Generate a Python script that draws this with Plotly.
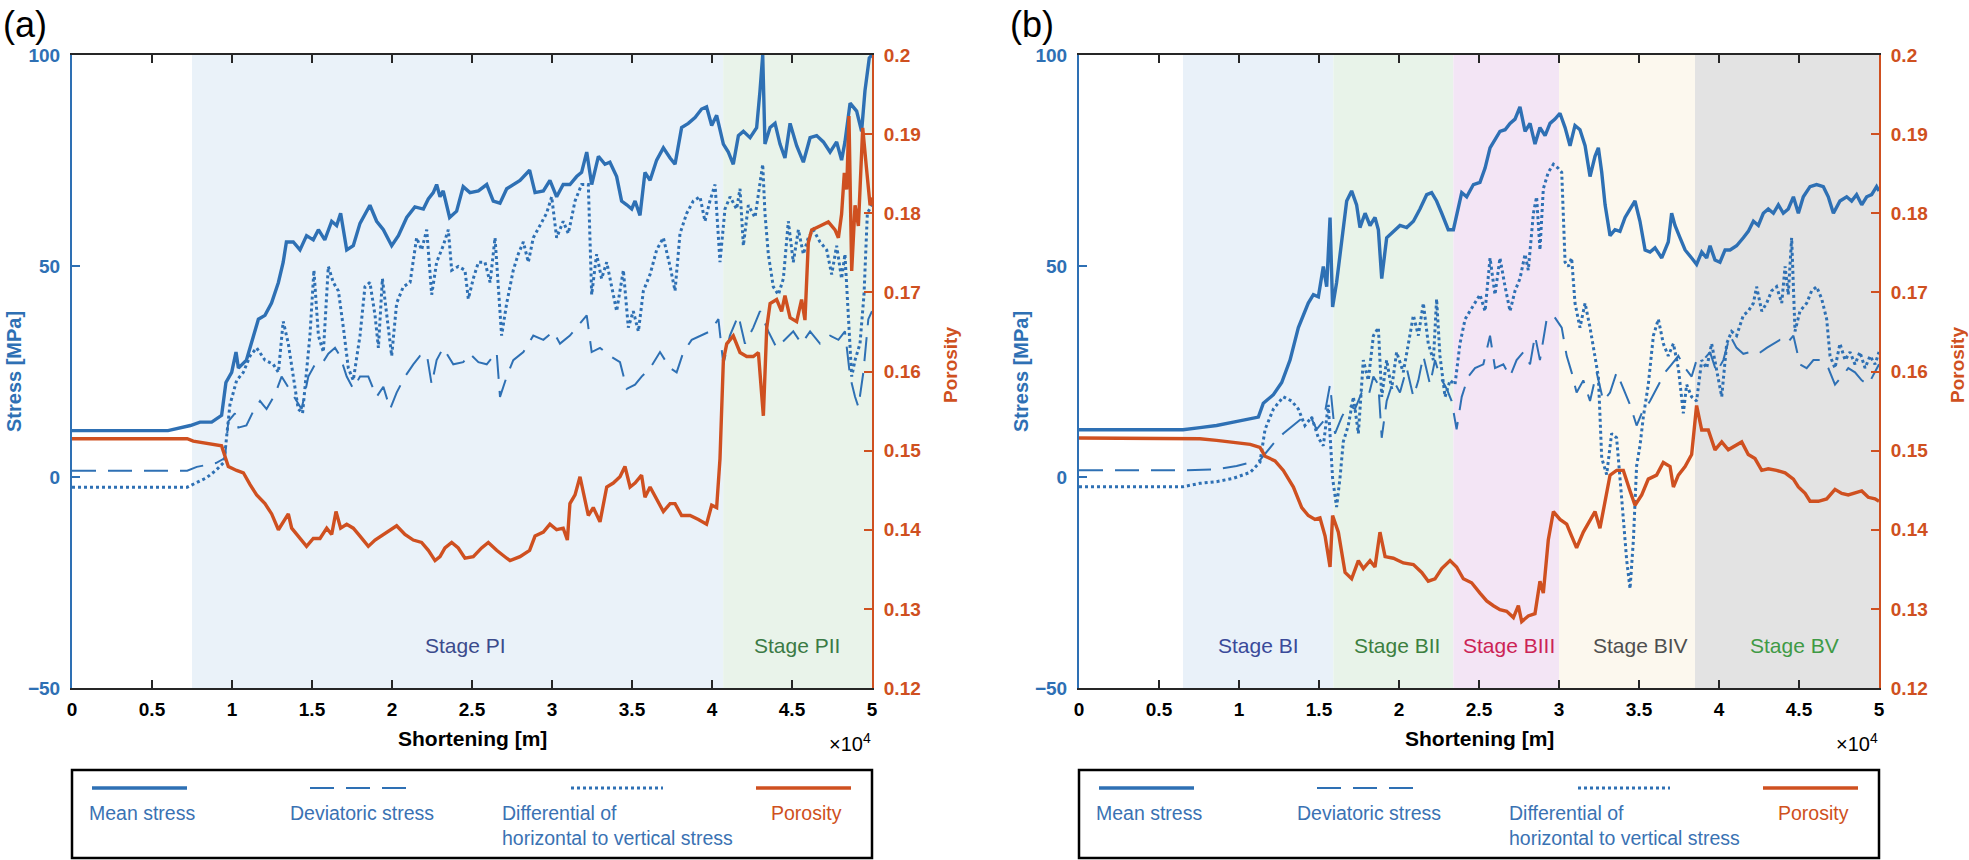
import plotly.graph_objects as go

# ---------------- data (shortening in units of 10^4 m) ----------------
a_mean_x = [0, 0.6, 0.74, 0.8, 0.873, 0.935, 0.962, 0.998, 1.025, 1.04, 1.09, 1.165, 1.206, 1.247, 1.29, 1.32, 1.34, 1.383, 1.425, 1.466, 1.508, 1.54, 1.58, 1.623, 1.654, 1.679, 1.717, 1.758, 1.8, 1.862, 1.904, 1.946, 1.998, 2.04, 2.092, 2.143, 2.196, 2.227, 2.258, 2.279, 2.3, 2.32, 2.36, 2.404, 2.445, 2.487, 2.54, 2.592, 2.633, 2.675, 2.717, 2.758, 2.8, 2.86, 2.894, 2.946, 2.987, 3.029, 3.07, 3.112, 3.154, 3.185, 3.217, 3.248, 3.29, 3.331, 3.362, 3.404, 3.435, 3.467, 3.498, 3.519, 3.55, 3.581, 3.613, 3.654, 3.696, 3.738, 3.769, 3.81, 3.852, 3.894, 3.935, 3.966, 3.998, 4.029, 4.071, 4.102, 4.133, 4.165, 4.196, 4.238, 4.279, 4.3, 4.317, 4.331, 4.363, 4.394, 4.425, 4.456, 4.488, 4.529, 4.571, 4.613, 4.654, 4.696, 4.738, 4.779, 4.81, 4.831, 4.863, 4.904, 4.935, 4.956, 4.983, 5.0]
a_mean_y = [11, 11, 12.2, 13.0, 13.0, 14.6, 22.4, 24.8, 29.6, 25.8, 27.7, 37.4, 38.3, 41.2, 46.1, 50.9, 55.7, 55.7, 53.8, 57.2, 56.2, 58.6, 56.2, 60.6, 59.6, 62.5, 53.8, 54.8, 60.1, 64.4, 60.6, 58.6, 54.8, 57.2, 61.5, 64.0, 63.5, 65.9, 67.4, 69.3, 66.4, 67.8, 61.5, 63.0, 68.8, 67.4, 67.8, 69.3, 65.4, 64.9, 68.3, 69.3, 70.3, 72.7, 67.4, 67.8, 70.3, 66.4, 69.3, 69.3, 71.2, 72.2, 77.0, 69.3, 76.0, 74.1, 74.6, 71.2, 65.4, 64.5, 63.5, 65.4, 62.0, 72.2, 70.3, 75.1, 78.0, 75.6, 74.1, 82.8, 83.8, 85.2, 87.2, 87.7, 83.3, 85.7, 78.9, 77.0, 74.1, 80.9, 81.9, 80.4, 82.8, 91.5, 100, 78.9, 82.8, 83.8, 78.9, 75.6, 83.8, 78.5, 74.6, 80.4, 80.9, 79.4, 77.0, 79.4, 75.1, 79.4, 88.6, 86.7, 81.9, 91.5, 99.3, 100]

a_dev_x = [0, 0.72, 0.78, 0.9, 0.956, 0.977, 1.018, 1.04, 1.09, 1.133, 1.175, 1.216, 1.268, 1.31, 1.341, 1.394, 1.435, 1.477, 1.519, 1.56, 1.602, 1.644, 1.675, 1.717, 1.758, 1.8, 1.852, 1.904, 1.946, 1.988, 2.029, 2.081, 2.133, 2.175, 2.217, 2.248, 2.279, 2.32, 2.383, 2.445, 2.487, 2.54, 2.592, 2.654, 2.675, 2.717, 2.758, 2.821, 2.883, 2.946, 3.008, 3.05, 3.112, 3.175, 3.217, 3.248, 3.3, 3.362, 3.425, 3.467, 3.519, 3.56, 3.613, 3.675, 3.738, 3.779, 3.821, 3.873, 3.925, 3.987, 4.04, 4.071, 4.112, 4.165, 4.206, 4.258, 4.3, 4.352, 4.404, 4.456, 4.508, 4.56, 4.613, 4.675, 4.738, 4.79, 4.831, 4.863, 4.894, 4.915, 4.946, 4.977, 5.0]
a_dev_y = [1.5, 1.5, 2.4, 3.3, 4.5, 13.2, 15.1, 11.7, 12.2, 15.6, 18.0, 16.1, 19.5, 23.8, 21.9, 18.5, 16.1, 23.8, 26.7, 26.7, 29.2, 30.6, 28.7, 23.8, 20.9, 23.8, 23.8, 19.0, 21.4, 16.1, 20.0, 23.8, 26.7, 28.7, 29.2, 21.9, 27.7, 30.6, 26.7, 27.2, 29.2, 27.2, 26.7, 29.6, 19.0, 23.8, 27.7, 29.6, 33.5, 32.5, 34.5, 31.6, 33.5, 36.4, 38.3, 29.6, 30.6, 28.7, 27.2, 20.9, 21.9, 23.8, 25.8, 29.6, 25.8, 24.8, 29.6, 32.5, 33.5, 34.5, 37.4, 26.7, 33.5, 38.3, 31.6, 35.4, 39.3, 34.5, 30.6, 32.5, 34.5, 31.6, 34.5, 31.6, 33.5, 32.5, 34.5, 23.8, 19.0, 16.6, 24.8, 37.4, 39.3]

a_diff_x = [0, 0.72, 0.84, 0.9, 0.95, 0.967, 0.987, 1.029, 1.071, 1.113, 1.154, 1.206, 1.258, 1.29, 1.32, 1.352, 1.383, 1.414, 1.441, 1.466, 1.487, 1.512, 1.54, 1.571, 1.602, 1.633, 1.665, 1.696, 1.727, 1.758, 1.8, 1.831, 1.862, 1.894, 1.915, 1.94, 1.967, 1.998, 2.029, 2.071, 2.113, 2.154, 2.185, 2.217, 2.248, 2.279, 2.32, 2.352, 2.373, 2.414, 2.456, 2.477, 2.508, 2.54, 2.581, 2.613, 2.644, 2.665, 2.685, 2.717, 2.758, 2.789, 2.821, 2.852, 2.883, 2.925, 2.966, 2.998, 3.029, 3.07, 3.102, 3.144, 3.185, 3.227, 3.248, 3.279, 3.31, 3.342, 3.383, 3.404, 3.446, 3.477, 3.508, 3.54, 3.571, 3.613, 3.654, 3.696, 3.738, 3.769, 3.8, 3.842, 3.883, 3.925, 3.956, 3.987, 4.019, 4.05, 4.081, 4.113, 4.154, 4.175, 4.196, 4.227, 4.269, 4.3, 4.317, 4.331, 4.352, 4.383, 4.415, 4.446, 4.477, 4.508, 4.54, 4.571, 4.602, 4.633, 4.675, 4.717, 4.748, 4.779, 4.81, 4.831, 4.852, 4.873, 4.894, 4.925, 4.95, 4.971, 5.0]
a_diff_y = [-2.4, -2.4, -0.2, 1.6, 3.5, 10.3, 17.1, 22.9, 24.8, 28.7, 30.6, 27.7, 26.7, 24.8, 36.9, 31.6, 23.8, 16.1, 15.1, 25.8, 33.5, 49.0, 33.5, 29.6, 49.9, 46.1, 44.1, 35.4, 25.8, 22.9, 33.5, 45.1, 46.1, 38.3, 30.6, 47.0, 38.3, 28.7, 41.2, 45.1, 46.1, 56.7, 53.8, 58.6, 43.2, 50.9, 54.8, 58.6, 49.0, 49.9, 49.0, 42.2, 47.0, 50.9, 50.9, 46.1, 56.7, 45.1, 33.5, 41.2, 49.0, 52.8, 55.7, 50.9, 56.7, 59.6, 62.5, 66.4, 56.7, 60.6, 57.7, 65.4, 69.3, 69.3, 43.2, 52.8, 47.0, 50.9, 43.2, 39.3, 49.0, 35.4, 39.3, 34.5, 44.1, 48.0, 53.8, 56.7, 49.9, 44.1, 57.7, 62.5, 65.4, 66.4, 60.6, 65.4, 69.3, 50.9, 63.5, 66.4, 63.5, 68.3, 54.8, 64.4, 61.5, 69.3, 74.1, 62.5, 52.8, 45.1, 43.2, 47.0, 60.6, 50.9, 58.6, 52.8, 56.7, 58.6, 55.7, 53.8, 48.0, 54.8, 47.0, 52.8, 39.3, 23.8, 27.7, 31.6, 43.2, 62.5, 64.5]

a_por_x = [0, 0.72, 0.758, 0.863, 0.935, 0.956, 0.977, 1.029, 1.071, 1.113, 1.154, 1.206, 1.248, 1.29, 1.331, 1.352, 1.373, 1.414, 1.466, 1.508, 1.55, 1.592, 1.623, 1.65, 1.679, 1.717, 1.758, 1.8, 1.852, 1.894, 1.946, 1.988, 2.029, 2.081, 2.133, 2.185, 2.227, 2.269, 2.3, 2.331, 2.373, 2.414, 2.456, 2.508, 2.56, 2.602, 2.654, 2.717, 2.7375, 2.8, 2.86, 2.894, 2.946, 2.987, 3.029, 3.07, 3.096, 3.112, 3.144, 3.175, 3.196, 3.227, 3.258, 3.3, 3.342, 3.383, 3.425, 3.456, 3.488, 3.519, 3.56, 3.581, 3.613, 3.654, 3.696, 3.738, 3.769, 3.81, 3.863, 3.915, 3.966, 3.998, 4.029, 4.05, 4.071, 4.092, 4.133, 4.175, 4.217, 4.258, 4.29, 4.321, 4.342, 4.363, 4.404, 4.435, 4.456, 4.488, 4.529, 4.56, 4.581, 4.602, 4.623, 4.675, 4.727, 4.769, 4.79, 4.81, 4.827, 4.842, 4.856, 4.873, 4.894, 4.915, 4.942, 4.963, 4.988, 5.0]
a_por_y = [0.1515, 0.1515, 0.1512, 0.1509, 0.1506, 0.1493, 0.148, 0.1475, 0.1472, 0.1457, 0.1444, 0.1433, 0.142, 0.14, 0.1413, 0.142, 0.1402, 0.1392, 0.1379, 0.1389, 0.1389, 0.1402, 0.1394, 0.1423, 0.1402, 0.1407, 0.1402, 0.1392, 0.1379, 0.1387, 0.1394, 0.14, 0.1405, 0.1394, 0.1387, 0.1384, 0.1374, 0.1361, 0.1366, 0.1377, 0.1384, 0.1377, 0.1364, 0.1366, 0.1377, 0.1384, 0.1374, 0.1364, 0.1361, 0.1366, 0.1374, 0.1392, 0.1397, 0.1407, 0.14, 0.1402, 0.1387, 0.1433, 0.1444, 0.1467, 0.1449, 0.1418, 0.1428, 0.141, 0.1454, 0.1459, 0.1467, 0.148, 0.1454, 0.1459, 0.1469, 0.1441, 0.1454, 0.1439, 0.1423, 0.1433, 0.1433, 0.1418, 0.1418, 0.1413, 0.1407, 0.1431, 0.1428, 0.149, 0.1614, 0.1635, 0.1645, 0.1624, 0.1619, 0.1619, 0.1624, 0.1544, 0.1655, 0.1686, 0.1691, 0.1676, 0.1696, 0.1668, 0.1663, 0.1691, 0.1665, 0.1763, 0.1779, 0.1784, 0.1789, 0.1779, 0.1769, 0.1799, 0.1851, 0.183, 0.1923, 0.1727, 0.181, 0.1784, 0.1908, 0.1862, 0.181, 0.182]

b_mean_x = [0, 0.65, 0.756, 0.86, 0.965, 1.07, 1.121, 1.152, 1.215, 1.267, 1.319, 1.371, 1.402, 1.433, 1.465, 1.496, 1.527, 1.548, 1.569, 1.585, 1.61, 1.642, 1.673, 1.704, 1.735, 1.756, 1.788, 1.819, 1.85, 1.871, 1.892, 1.923, 1.965, 2.006, 2.048, 2.09, 2.131, 2.173, 2.204, 2.235, 2.267, 2.308, 2.34, 2.371, 2.392, 2.423, 2.465, 2.506, 2.538, 2.569, 2.6, 2.631, 2.663, 2.694, 2.725, 2.756, 2.788, 2.819, 2.85, 2.881, 2.913, 2.944, 2.975, 3.006, 3.038, 3.069, 3.1, 3.131, 3.163, 3.194, 3.225, 3.246, 3.267, 3.288, 3.319, 3.35, 3.381, 3.413, 3.444, 3.475, 3.506, 3.538, 3.569, 3.6, 3.642, 3.683, 3.704, 3.725, 3.756, 3.788, 3.829, 3.86, 3.892, 3.923, 3.944, 3.975, 4.006, 4.038, 4.069, 4.11, 4.152, 4.183, 4.215, 4.246, 4.277, 4.308, 4.34, 4.371, 4.402, 4.433, 4.465, 4.496, 4.527, 4.569, 4.61, 4.652, 4.683, 4.715, 4.756, 4.798, 4.829, 4.86, 4.892, 4.923, 4.954, 4.985, 5.0]
b_mean_y = [11.2, 11.2, 11.7, 12.2, 13.0, 13.7, 14.2, 17.5, 19.5, 22.4, 27.7, 35.4, 38.3, 41.2, 43.2, 42.7, 49.9, 45.1, 61.5, 40.3, 46.1, 55.7, 65.4, 67.8, 64.5, 59.1, 62.5, 59.6, 61.5, 58.6, 47.0, 56.7, 58.2, 59.6, 59.1, 60.6, 63.5, 66.9, 67.4, 65.4, 62.5, 58.6, 58.6, 63.5, 67.4, 66.4, 69.3, 69.8, 73.2, 78.0, 79.9, 81.9, 82.3, 83.8, 84.8, 87.7, 81.9, 83.8, 78.9, 82.8, 80.9, 83.8, 84.8, 86.2, 82.8, 78.5, 83.3, 82.3, 78.5, 71.2, 76.0, 78.0, 72.2, 64.5, 57.2, 58.6, 58.2, 61.5, 63.5, 65.4, 60.6, 53.8, 53.3, 54.3, 51.9, 55.7, 62.5, 59.6, 56.7, 53.8, 51.9, 50.4, 53.3, 51.9, 54.8, 51.4, 50.9, 53.8, 53.8, 54.8, 56.7, 58.2, 60.6, 59.6, 62.5, 63.5, 62.5, 64.5, 62.5, 63.5, 66.4, 62.5, 66.4, 68.8, 69.3, 68.8, 66.4, 62.5, 65.4, 66.4, 65.4, 66.9, 64.5, 66.4, 66.9, 68.8, 67.8]

b_dev_x = [0, 0.65, 0.86, 0.985, 1.131, 1.215, 1.277, 1.34, 1.402, 1.444, 1.485, 1.527, 1.569, 1.6, 1.642, 1.683, 1.725, 1.767, 1.808, 1.84, 1.871, 1.892, 1.923, 1.965, 2.006, 2.048, 2.09, 2.121, 2.152, 2.194, 2.225, 2.256, 2.298, 2.329, 2.36, 2.392, 2.433, 2.475, 2.527, 2.569, 2.6, 2.652, 2.694, 2.735, 2.777, 2.819, 2.85, 2.881, 2.923, 2.965, 3.017, 3.048, 3.079, 3.11, 3.152, 3.194, 3.235, 3.277, 3.319, 3.36, 3.402, 3.444, 3.485, 3.517, 3.569, 3.621, 3.663, 3.704, 3.746, 3.788, 3.829, 3.86, 3.902, 3.944, 3.985, 4.027, 4.069, 4.11, 4.152, 4.194, 4.246, 4.298, 4.34, 4.381, 4.423, 4.465, 4.506, 4.548, 4.59, 4.642, 4.683, 4.725, 4.767, 4.808, 4.85, 4.892, 4.933, 4.975, 5.0]
b_dev_y = [1.6, 1.6, 1.8, 2.6, 4.0, 7.9, 10.3, 12.2, 14.2, 14.6, 11.3, 13.2, 21.9, 10.3, 14.2, 17.1, 16.1, 20.0, 19.0, 23.8, 21.9, 9.3, 18.0, 22.9, 20.0, 25.8, 19.0, 22.9, 28.7, 21.9, 27.7, 23.8, 20.9, 18.0, 11.3, 19.0, 23.8, 25.8, 26.7, 33.5, 25.8, 26.7, 23.8, 27.7, 29.6, 26.7, 33.5, 27.7, 37.4, 38.3, 35.4, 28.7, 24.8, 20.0, 22.9, 18.0, 24.8, 18.0, 20.0, 24.8, 20.9, 17.1, 12.2, 15.1, 18.0, 21.9, 24.8, 26.7, 28.7, 25.8, 23.8, 27.7, 27.7, 29.6, 24.8, 27.7, 33.5, 30.6, 29.2, 29.6, 29.2, 30.6, 31.6, 32.5, 31.6, 33.5, 26.7, 25.8, 27.7, 27.7, 25.8, 21.9, 23.8, 25.8, 24.8, 22.9, 21.9, 24.8, 26.7]

b_diff_x = [0, 0.65, 0.756, 0.86, 0.965, 1.07, 1.131, 1.163, 1.215, 1.277, 1.329, 1.371, 1.412, 1.454, 1.496, 1.527, 1.558, 1.585, 1.61, 1.631, 1.652, 1.683, 1.715, 1.746, 1.777, 1.808, 1.84, 1.871, 1.892, 1.923, 1.954, 1.985, 2.027, 2.058, 2.09, 2.121, 2.152, 2.183, 2.215, 2.235, 2.256, 2.288, 2.319, 2.35, 2.381, 2.413, 2.444, 2.475, 2.506, 2.538, 2.569, 2.6, 2.631, 2.663, 2.694, 2.725, 2.756, 2.788, 2.808, 2.84, 2.86, 2.881, 2.902, 2.933, 2.965, 2.994, 3.017, 3.038, 3.058, 3.079, 3.1, 3.131, 3.163, 3.194, 3.225, 3.246, 3.267, 3.298, 3.329, 3.36, 3.392, 3.423, 3.444, 3.465, 3.485, 3.506, 3.527, 3.558, 3.59, 3.621, 3.652, 3.683, 3.715, 3.746, 3.777, 3.798, 3.829, 3.86, 3.892, 3.923, 3.954, 3.985, 4.017, 4.048, 4.079, 4.11, 4.152, 4.183, 4.215, 4.235, 4.267, 4.298, 4.329, 4.36, 4.392, 4.413, 4.433, 4.454, 4.475, 4.506, 4.548, 4.579, 4.61, 4.642, 4.673, 4.694, 4.725, 4.756, 4.788, 4.819, 4.85, 4.881, 4.913, 4.944, 4.975, 5.0]
b_diff_y = [-2.3, -2.3, -1.5, -1.1, -0.3, 1.1, 3.5, 11.3, 16.1, 19.0, 18.0, 16.1, 12.2, 14.2, 9.3, 7.4, 17.1, -0.3, -7.1, -0.3, 8.4, 12.2, 19.0, 10.3, 27.7, 22.9, 33.5, 35.4, 19.0, 27.7, 20.9, 29.6, 24.8, 31.6, 38.3, 33.5, 41.2, 31.6, 27.7, 42.2, 28.7, 19.0, 22.9, 21.9, 31.6, 37.4, 39.3, 41.2, 43.2, 39.3, 51.9, 43.2, 51.9, 45.1, 39.3, 44.1, 47.0, 52.8, 49.0, 62.5, 66.4, 53.8, 68.3, 72.2, 74.1, 73.2, 72.2, 50.9, 49.9, 51.9, 41.2, 35.4, 41.2, 35.4, 28.7, 23.8, 4.5, 0.6, 10.3, 9.3, -5.2, -19.7, -26.5, -14.9, 2.6, 7.4, 14.2, 21.9, 33.5, 37.4, 31.6, 28.7, 31.6, 25.8, 15.1, 21.9, 19.0, 18.0, 27.7, 25.8, 31.6, 25.8, 19.0, 31.6, 34.5, 33.5, 38.3, 39.3, 41.2, 45.1, 39.3, 41.2, 44.1, 45.1, 41.2, 49.9, 43.2, 56.7, 34.5, 39.3, 41.2, 44.1, 45.1, 42.2, 37.4, 28.7, 25.8, 31.6, 27.7, 29.6, 26.7, 29.6, 25.8, 28.7, 26.7, 29.6]

b_por_x = [0, 0.65, 0.756, 0.86, 0.965, 1.07, 1.131, 1.163, 1.225, 1.277, 1.34, 1.392, 1.433, 1.475, 1.506, 1.538, 1.569, 1.585, 1.621, 1.663, 1.704, 1.746, 1.777, 1.819, 1.85, 1.881, 1.913, 1.965, 2.027, 2.09, 2.142, 2.183, 2.225, 2.267, 2.319, 2.36, 2.402, 2.454, 2.506, 2.548, 2.59, 2.631, 2.673, 2.715, 2.746, 2.767, 2.808, 2.85, 2.881, 2.902, 2.933, 2.965, 3.006, 3.048, 3.079, 3.11, 3.152, 3.194, 3.225, 3.256, 3.288, 3.319, 3.36, 3.402, 3.444, 3.475, 3.517, 3.558, 3.61, 3.652, 3.694, 3.715, 3.746, 3.788, 3.829, 3.86, 3.892, 3.933, 3.975, 4.017, 4.058, 4.1, 4.142, 4.183, 4.225, 4.267, 4.308, 4.36, 4.413, 4.465, 4.496, 4.538, 4.569, 4.621, 4.673, 4.725, 4.767, 4.808, 4.85, 4.892, 4.933, 4.975, 5.0]
b_por_y = [0.1516, 0.1516, 0.1515, 0.1513, 0.1511, 0.1508, 0.1504, 0.1493, 0.1487, 0.1475, 0.1454, 0.1428, 0.1418, 0.1413, 0.1415, 0.1392, 0.1353, 0.1418, 0.1397, 0.1346, 0.1338, 0.1361, 0.1351, 0.1361, 0.1353, 0.1397, 0.1366, 0.1364, 0.1358, 0.1356, 0.1346, 0.1335, 0.1338, 0.1351, 0.1361, 0.1353, 0.1338, 0.1333, 0.132, 0.131, 0.1304, 0.1299, 0.1297, 0.1289, 0.1304, 0.1284, 0.1291, 0.1294, 0.1335, 0.132, 0.1387, 0.1423, 0.1413, 0.1407, 0.1392, 0.1377, 0.1397, 0.1413, 0.1423, 0.1402, 0.1439, 0.1469, 0.1475, 0.1475, 0.1449, 0.1431, 0.1444, 0.1464, 0.1469, 0.1485, 0.148, 0.1454, 0.1469, 0.148, 0.1495, 0.1557, 0.1526, 0.1526, 0.1501, 0.1511, 0.1501, 0.1506, 0.1511, 0.1495, 0.149, 0.1475, 0.1477, 0.1475, 0.1472, 0.1464, 0.1454, 0.1446, 0.1436, 0.1436, 0.1439, 0.1451, 0.1446, 0.1444, 0.1446, 0.1449, 0.1441, 0.1439, 0.1436]

x_ticks = [0, 0.5, 1, 1.5, 2, 2.5, 3, 3.5, 4, 4.5, 5]
x_tick_text = ["0", "0.5", "1", "1.5", "2", "2.5", "3", "3.5", "4", "4.5", "5"]
stress_ticks = [-50, 0, 50, 100]
por_ticks = [0.12, 0.13, 0.14, 0.15, 0.16, 0.17, 0.18, 0.19, 0.2]
por_tick_text = ["0.12", "0.13", "0.14", "0.15", "0.16", "0.17", "0.18", "0.19", "0.2"]

a_stage_names = ["Stage PI", "Stage PII"]
a_stage_bounds = [(0.75, 4.07), (4.07, 5.0)]
a_stage_label_x = [2.46, 4.53]
b_stage_names = ["Stage BI", "Stage BII", "Stage BIII", "Stage BIV", "Stage BV"]
b_stage_bounds = [(0.65, 1.59), (1.59, 2.34), (2.34, 3.0), (3.0, 3.85), (3.85, 5.0)]
b_stage_label_x = [1.12, 1.99, 2.69, 3.51, 4.47]

legend_names = ["Mean stress", "Deviatoric stress", "Differential of<br>horizontal to vertical stress", "Porosity"]

# ---------------- styling ----------------
W, H = 1969, 860
BLUE = "#2e70b4"
ORANGE = "#cf5020"
BLUE_TXT = "#3a72b3"
AX = "#262626"
FONT = "Liberation Sans"
DASH = "24px,12px"
DOT = "3px,3px"

a_stage_fill = ["#eaf2f9", "#e9f3ea"]
a_stage_col = ["#3b4b8c", "#3b7a45"]
b_stage_fill = ["#e9f1f9", "#e8f3e9", "#f3e5f5", "#fcf8ee", "#e3e3e3"]
b_stage_col = ["#3a4a9a", "#3c7f40", "#cc2355", "#4f4f4f", "#3f9a45"]


def px(x):
    return x / W


def py(y):
    return 1 - y / H


fig = go.Figure()

panels = [
    dict(x="x", y="y", y2="y2", xl=72, xr=872,
         mean=(a_mean_x, a_mean_y), dev=(a_dev_x, a_dev_y), diff=(a_diff_x, a_diff_y), por=(a_por_x, a_por_y),
         names=a_stage_names, bounds=a_stage_bounds, lx=a_stage_label_x, fills=a_stage_fill, cols=a_stage_col,
         label="(a)", label_x=1),
    dict(x="x2", y="y3", y2="y4", xl=1079, xr=1879,
         mean=(b_mean_x, b_mean_y), dev=(b_dev_x, b_dev_y), diff=(b_diff_x, b_diff_y), por=(b_por_x, b_por_y),
         names=b_stage_names, bounds=b_stage_bounds, lx=b_stage_label_x, fills=b_stage_fill, cols=b_stage_col,
         label="(b)", label_x=1008),
]

shapes = []
annotations = []
TOP, BOT = 55, 688


def note(x, y, text, size, color, xanchor="center", yanchor="middle", angle=0, align="center"):
    annotations.append(dict(xref="paper", yref="paper", x=px(x), y=py(y), text=text, showarrow=False,
                            xanchor=xanchor, yanchor=yanchor, textangle=angle, align=align,
                            font=dict(family=FONT, size=size, color=color)))


for i, p in enumerate(panels):
    fig.add_trace(go.Scatter(x=p["dev"][0], y=p["dev"][1], xaxis=p["x"], yaxis=p["y"], mode="lines",
                             line=dict(color=BLUE, width=2, dash=DASH), showlegend=False))
    fig.add_trace(go.Scatter(x=p["diff"][0], y=p["diff"][1], xaxis=p["x"], yaxis=p["y"], mode="lines",
                             line=dict(color=BLUE, width=3, dash=DOT), showlegend=False))
    fig.add_trace(go.Scatter(x=p["mean"][0], y=p["mean"][1], xaxis=p["x"], yaxis=p["y"], mode="lines",
                             line=dict(color=BLUE, width=3.4), showlegend=False))
    fig.add_trace(go.Scatter(x=p["por"][0], y=p["por"][1], xaxis=p["x"], yaxis=p["y2"], mode="lines",
                             line=dict(color=ORANGE, width=3.4), showlegend=False))

    # stage shading and labels
    for (x0, x1), fc, nm, lx, tc in zip(p["bounds"], p["fills"], p["names"], p["lx"], p["cols"]):
        shapes.append(dict(type="rect", xref=p["x"], yref=p["y"] + " domain", x0=x0, x1=x1, y0=0, y1=1,
                           fillcolor=fc, line=dict(width=0), layer="below"))
        annotations.append(dict(xref=p["x"], yref=p["y"], x=lx, y=-40, text=nm, showarrow=False,
                                xanchor="center", yanchor="middle",
                                font=dict(family=FONT, size=21, color=tc)))

    xl, xr = p["xl"], p["xr"]
    note((xl + xr) / 2, 738, "<b>Shortening [m]</b>", 21, "black")
    note(xr + 1, 742, "×10<sup>4</sup>", 20, "black", xanchor="right")
    note(xl - 58, 372, "<b>Stress [MPa]</b>", 20, BLUE, angle=-90)
    note(xr + 78, 365, "<b>Porosity</b>", 19, ORANGE, angle=-90)
    note(p["label_x"], 24, p["label"], 36, "black", xanchor="left")

    # legend box
    shapes.append(dict(type="rect", xref="paper", yref="paper", x0=px(xl), x1=px(xr), y0=py(858), y1=py(770),
                       line=dict(color="black", width=2.5), fillcolor="rgba(0,0,0,0)"))
    samples = [(20, 115, dict(color=BLUE, width=3.4), BLUE_TXT, 15),
               (238, 334, dict(color=BLUE, width=2, dash=DASH), BLUE_TXT, 216),
               (499, 591, dict(color=BLUE, width=3, dash=DOT), BLUE_TXT, 428),
               (684, 779, dict(color=ORANGE, width=3.4), ORANGE, 697)]
    for (s0, s1, ln, tc, tx), nm in zip(samples, legend_names):
        shapes.append(dict(type="line", xref="paper", yref="paper", x0=px(xl + s0), x1=px(xl + s1),
                           y0=py(788), y1=py(788), line=ln))
        note(xl + tx, 800, nm, 19.5, tc, xanchor="left", yanchor="top", align="left")

dom_a = [px(72), px(872)]
dom_b = [px(1079), px(1879)]
ydom = [py(BOT), py(TOP)]

xcommon = dict(range=[0, 5], tickvals=x_ticks, ticktext=x_tick_text, showline=True, linecolor=AX, linewidth=2,
               mirror="ticks", ticks="inside", ticklen=8, tickwidth=2, tickcolor=AX, showgrid=False, zeroline=False,
               automargin=False,
               tickfont=dict(family=FONT, size=19, color="black", weight="bold"), ticklabelstandoff=3)
ycommon = dict(range=[-50, 100], tickvals=stress_ticks, showline=True, linecolor=BLUE, linewidth=2,
               ticks="inside", ticklen=8, tickwidth=2, tickcolor=BLUE, showgrid=False, zeroline=False,
               automargin=False,
               tickfont=dict(family=FONT, size=19, color=BLUE, weight="bold"), domain=ydom, ticklabelstandoff=6)
pcommon = dict(range=[0.12, 0.2], tickvals=por_ticks, ticktext=por_tick_text, showline=True, linecolor=ORANGE,
               linewidth=2, ticks="inside", ticklen=8, tickwidth=2, tickcolor=ORANGE, showgrid=False, zeroline=False,
               automargin=False,
               side="right", tickfont=dict(family=FONT, size=19, color=ORANGE, weight="bold"), ticklabelstandoff=6)

fig.update_layout(
    width=W, height=H, autosize=False,
    margin=dict(l=0, r=0, t=0, b=0, pad=0, autoexpand=False),
    paper_bgcolor="white", plot_bgcolor="white",
    showlegend=False,
    xaxis=dict(domain=dom_a, anchor="y", **xcommon),
    yaxis=dict(anchor="x", **ycommon),
    yaxis2=dict(anchor="x", overlaying="y", **pcommon),
    xaxis2=dict(domain=dom_b, anchor="y3", **xcommon),
    yaxis3=dict(anchor="x2", **ycommon),
    yaxis4=dict(anchor="x2", overlaying="y3", **pcommon),
    shapes=shapes,
    annotations=annotations,
)

fig.write_html("out.html", config={"displayModeBar": False},
               post_script="document.body.style.margin='0px';document.body.style.overflow='hidden';")
